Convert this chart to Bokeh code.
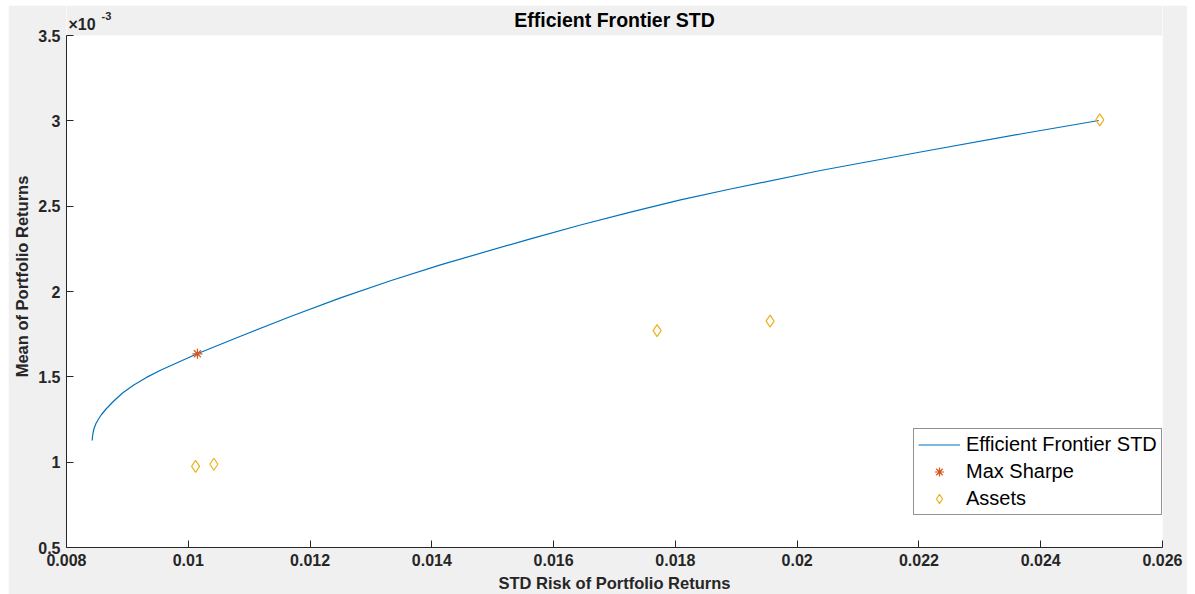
from bokeh.plotting import figure
from bokeh.models import (CustomJSTickFormatter, Label, Legend, LegendItem, Range1d,
                          FixedTicker, BoxAnnotation)
from bokeh.embed import file_html
from bokeh.resources import INLINE

# Efficient frontier
frontier_std = [0.008422, 0.008427, 0.008437, 0.008452, 0.008484, 0.008526, 0.008575,
                0.008657, 0.008777, 0.008920, 0.009105, 0.009314, 0.009544, 0.009872,
                0.010147, 0.010858, 0.011679, 0.012500, 0.013321, 0.014142, 0.015620,
                0.016442, 0.017263, 0.018084, 0.018905, 0.020383, 0.022026, 0.023668,
                0.024954]
frontier_mean = [1.1270e-3, 1.1504e-3, 1.1738e-3, 1.1973e-3, 1.2266e-3, 1.2529e-3, 1.2793e-3,
                 1.3145e-3, 1.3584e-3, 1.4053e-3, 1.4521e-3, 1.4967e-3, 1.5383e-3, 1.5910e-3,
                 1.6350e-3, 1.7375e-3, 1.8535e-3, 1.9625e-3, 2.0633e-3, 2.1564e-3, 2.3088e-3,
                 2.3896e-3, 2.4652e-3, 2.5373e-3, 2.6006e-3, 2.7090e-3, 2.8174e-3, 2.9229e-3,
                 3.0020e-3]

sharpe_std = [0.01015]
sharpe_mean = [1.635e-3]

asset_std = [0.01012, 0.01042, 0.01770, 0.019555, 0.02497]
asset_mean = [0.975e-3, 0.988e-3, 1.771e-3, 1.826e-3, 3.006e-3]

x_ticks = [0.008, 0.010, 0.012, 0.014, 0.016, 0.018, 0.020, 0.022, 0.024, 0.026]
y_ticks = [0.5e-3, 1.0e-3, 1.5e-3, 2.0e-3, 2.5e-3, 3.0e-3, 3.5e-3]

X_MIN, X_MAX = 0.008, 0.026
Y_MIN, Y_MAX = 0.5e-3, 3.5e-3
Y_TOP = 3.6758e-3   # frame extends above the axes box to hold title / exponent

FONT = "Liberation Sans"
AX = "#262626"
BG = "#f0f0f0"

p = figure(width=1179, height=589, output_backend="svg", toolbar_location=None,
           x_range=Range1d(X_MIN, X_MAX), y_range=Range1d(Y_MIN, Y_TOP),
           min_border_left=58, min_border_right=25, min_border_top=0, min_border_bottom=47)
p.margin = (5, 0, 0, 8)
p.background_fill_color = "white"
p.border_fill_color = BG
p.outline_line_color = None
p.xgrid.visible = False
p.ygrid.visible = False

# grey strip above the axes box
p.add_layout(BoxAnnotation(bottom=Y_MAX, fill_color=BG, fill_alpha=1, line_color=None,
                           level="underlay"))

for ax in (p.xaxis[0], p.yaxis[0]):
    ax.axis_line_color = AX
    ax.major_tick_line_color = AX
    ax.major_tick_in = 7
    ax.major_tick_out = 0
    ax.minor_tick_line_color = None
    ax.major_label_text_font = FONT
    ax.major_label_text_font_size = "16px"
    ax.major_label_text_font_style = "bold"
    ax.major_label_text_color = AX
    ax.axis_label_text_font = FONT
    ax.axis_label_text_font_size = "16.5px"
    ax.axis_label_text_font_style = "bold"
    ax.axis_label_text_color = AX

p.yaxis.bounds = (Y_MIN, Y_MAX)
p.xaxis.ticker = FixedTicker(ticks=x_ticks)
p.yaxis.ticker = FixedTicker(ticks=y_ticks)
p.xaxis.formatter = CustomJSTickFormatter(code="return String(Math.round(tick*1000)/1000);")
p.yaxis.formatter = CustomJSTickFormatter(code="return String(Math.round(tick*1e4)/10);")
p.xaxis.axis_label = "STD Risk of Portfolio Returns"
p.yaxis.axis_label = "Mean of Portfolio Returns"
p.xaxis.major_label_standoff = 6
p.xaxis.axis_label_standoff = 5
p.yaxis.major_label_standoff = 6
p.yaxis.axis_label_standoff = 4

r_line = p.line(frontier_std, frontier_mean, line_color="#0072BD", line_width=1.2)
r_star = p.scatter(sharpe_std, sharpe_mean, marker="asterisk", size=10,
                   line_color="#D95319", line_width=1.2)
r_assets = p.scatter(asset_std, asset_mean, marker="diamond", size=12,
                     line_color="#EDB120", fill_color=None, line_width=1.2)

legend = Legend(items=[
    LegendItem(label="Efficient Frontier STD", renderers=[r_line]),
    LegendItem(label="Max Sharpe", renderers=[r_star]),
    LegendItem(label="Assets", renderers=[r_assets]),
], location=(847, 32))
legend.label_text_font = FONT
legend.label_text_font_size = "20px"
legend.label_text_color = "black"
legend.glyph_width = 42
legend.glyph_height = 23
legend.label_height = 23
legend.spacing = 4
legend.padding = 4
legend.margin = 0
legend.label_standoff = 6
legend.border_line_color = "#262626"
legend.border_line_width = 1
legend.background_fill_color = "white"
legend.background_fill_alpha = 1
p.add_layout(legend, "center")

# title
p.add_layout(Label(x=(X_MIN + X_MAX) / 2, y=528, y_units="screen",
                   text="Efficient Frontier STD", text_align="center",
                   text_baseline="alphabetic", text_font=FONT, text_font_size="19.5px",
                   text_font_style="bold", text_color="black"))
# exponent marker
p.add_layout(Label(x=2, y=523.5, x_units="screen", y_units="screen", text="×10",
                   text_baseline="alphabetic", text_font=FONT, text_font_size="16px",
                   text_font_style="bold", text_color=AX))
p.add_layout(Label(x=35, y=532, x_units="screen", y_units="screen", text="-3",
                   text_baseline="alphabetic", text_font=FONT, text_font_size="11px",
                   text_font_style="bold", text_color=AX))

open("out.html", "w").write(file_html(p, INLINE))
